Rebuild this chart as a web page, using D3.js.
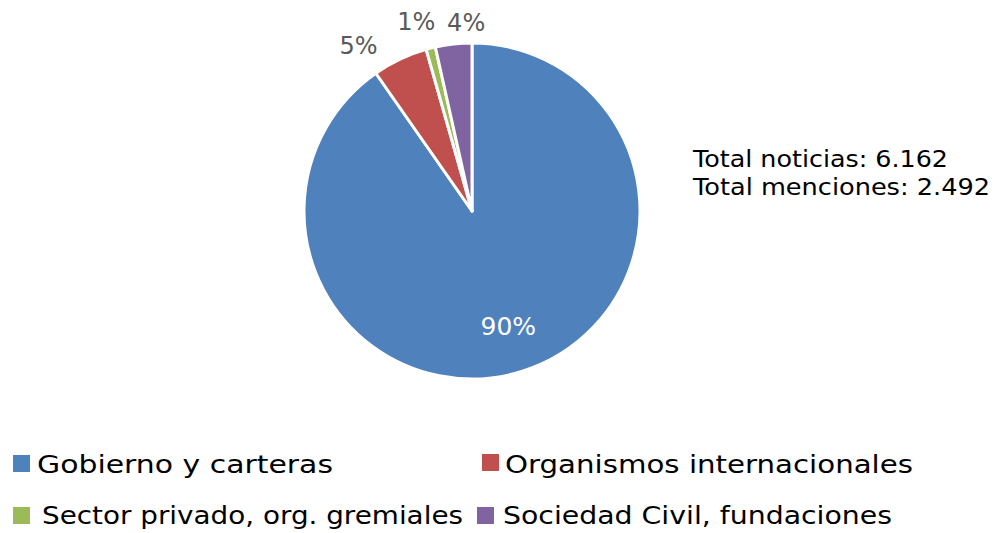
<!DOCTYPE html>
<html>
<head>
<meta charset="utf-8">
<script src="https://cdn.jsdelivr.net/npm/d3@7"></script>
<style>
  html, body { margin: 0; padding: 0; background: #fff; }
  svg { display: block; }
  text { font-family: "DejaVu Sans", sans-serif; }
</style>
</head>
<body>
<div id="chart"></div>
<script>
// data (percent of mentions)
const categories = ['Gobierno y carteras', 'Organismos internacionales', 'Sector privado, org. gremiales', 'Sociedad Civil, fundaciones']
const shares = [90.3, 5.3, 0.9, 3.5]
const shareLabels = ['90%', '5%', '1%', '4%']
const colors = ['#4F81BD', '#C0504D', '#9BBB59', '#8064A2']
const totals = ['Total noticias: 6.162', 'Total menciones: 2.492']

const width = 997
const height = 533
const cx = 472, cy = 211, radius = 168

const data = categories.map((c, i) => ({ name: c, value: shares[i], label: shareLabels[i] }))

const color = d3.scaleOrdinal().domain(categories).range(colors)

const svg = d3.select('#chart').append('svg')
    .attr('width', width)
    .attr('height', height)

const pie = d3.pie().sort(null).value(d => d.value)
const arcs = pie(data)

const arc = d3.arc().innerRadius(0).outerRadius(radius)
const outArc = d3.arc().innerRadius(190).outerRadius(190)
const inArc = d3.arc().innerRadius(121).outerRadius(121)

const g = svg.append('g').attr('transform', `translate(${cx},${cy})`)

g.selectAll('path').data(arcs)
  .join('path')
    .attr('d', arc)
    .attr('fill', d => color(d.data.name))
    .attr('stroke', '#fff')
    .attr('stroke-width', 3)
    .attr('stroke-linejoin', 'round')

// labels: big slice inside, small ones outside (shifted like excel "best fit")
const nudge = [[0, 0], [-32, 6], [-9, -5], [15, 0]]
g.selectAll('text.lbl').data(arcs)
  .join('text')
    .attr('class', 'lbl')
    .attr('transform', (d, i) => {
        const p = i === 0 ? inArc.centroid(d) : outArc.centroid(d)
        return `translate(${p[0] + nudge[i][0]},${p[1] + nudge[i][1]})`
    })
    .attr('text-anchor', 'middle')
    .attr('dy', '0.36em')
    .attr('font-size', (d, i) => i === 0 ? 25 : 24)
    .attr('fill', (d, i) => i === 0 ? '#fff' : '#595959')
    .text(d => d.data.label)

// totals text
svg.append('g').selectAll('text').data(totals)
  .join('text')
    .attr('x', 693)
    .attr('y', (d, i) => 167 + i * 28)
    .attr('font-size', 23)
    .attr('fill', '#000')
    .attr('textLength', (d, i) => [255, 297][i])
    .attr('lengthAdjust', 'spacingAndGlyphs')
    .text(d => d)

// legend, two rows of two
const legendPos = [
    { sx: 13, sy: 455, tx: 37, ty: 473, w: 296 },
    { sx: 482, sy: 454, tx: 505, ty: 473, w: 408 },
    { sx: 13, sy: 507, tx: 42, ty: 524, w: 421 },
    { sx: 477, sy: 507, tx: 503, ty: 524, w: 389 }
]
const legend = svg.append('g').selectAll('g').data(data)
  .join('g')
legend.append('rect')
    .attr('x', (d, i) => legendPos[i].sx)
    .attr('y', (d, i) => legendPos[i].sy)
    .attr('width', 17)
    .attr('height', 17)
    .attr('fill', d => color(d.name))
legend.append('text')
    .attr('x', (d, i) => legendPos[i].tx)
    .attr('y', (d, i) => legendPos[i].ty)
    .attr('font-size', 25)
    .attr('fill', '#000')
    .attr('textLength', (d, i) => legendPos[i].w)
    .attr('lengthAdjust', 'spacingAndGlyphs')
    .text(d => d.name)
</script>
</body>
</html>
